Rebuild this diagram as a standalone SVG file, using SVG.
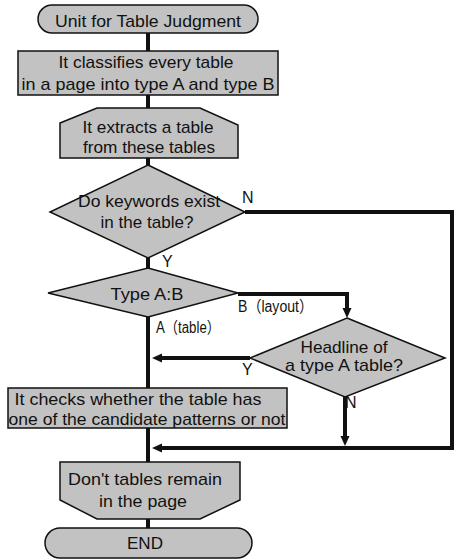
<svg xmlns="http://www.w3.org/2000/svg" width="454" height="560" viewBox="0 0 454 560">
<defs>
<style>
.s{fill:#c2c2c2;stroke:#111;stroke-width:1.5}
.t{font-family:"Liberation Sans",Arial,sans-serif;font-size:17px;fill:#111;text-anchor:middle}
.l{font-family:"Liberation Sans","Noto Sans CJK JP",Arial,sans-serif;font-size:16px;fill:#111}
.c{fill:none;stroke:#111;stroke-width:4;stroke-linejoin:miter}
</style>
<marker id="ah" markerUnits="userSpaceOnUse" markerWidth="10" markerHeight="10" viewBox="0 0 10 10" refX="0" refY="5" orient="auto">
<path d="M0,0.5 L10,5 L0,9.5 z" fill="#111"/>
</marker>
</defs>
<rect width="454" height="560" fill="#fff"/>
<g id="connectors">
<path class="c" d="M148,33 V51"/>
<path class="c" d="M148,95 V108"/>
<path class="c" d="M148,158 V165"/>
<path class="c" d="M148,258 V268"/>
<path class="c" d="M245,212 H452 V448 H162" marker-end="url(#ah)"/>
<path class="c" d="M238,294 H347 V308" marker-end="url(#ah)"/>
<path class="c" d="M148,317 V388"/>
<path class="c" d="M250,358 H162" marker-end="url(#ah)"/>
<path class="c" d="M345,397 V436" marker-end="url(#ah)"/>
<path class="c" d="M148,428 V462"/>
<path class="c" d="M148,519 V528"/>
<text class="l" x="242" y="203">N</text>
<text class="l" x="162" y="267">Y</text>
<text class="l" x="238" y="312" textLength="75" lengthAdjust="spacingAndGlyphs">B（layout）</text>
<text class="l" x="156" y="333" textLength="64" lengthAdjust="spacingAndGlyphs">A（table）</text>
<text class="l" x="242" y="375">Y</text>
<text class="l" x="345" y="408">N</text>
</g>
<g id="start">
<path class="s" d="M52,5 H244 A14,14 0 0 1 244,33 H52 A14,14 0 0 1 52,5 Z"/>
<text class="t" x="148" y="27" textLength="186" lengthAdjust="spacingAndGlyphs">Unit for Table Judgment</text>
</g>
<g id="classify">
<rect class="s" x="18" y="51" width="260" height="44"/>
<text class="t" x="146" y="68" textLength="175" lengthAdjust="spacingAndGlyphs">It classifies every table</text>
<text class="t" x="148" y="90" textLength="253" lengthAdjust="spacingAndGlyphs">in a page into type A and type B</text>
</g>
<g id="extract">
<path class="s" d="M60,123 L97,108 H200 L238,125 V158 H60 Z"/>
<text class="t" x="148" y="133" textLength="131" lengthAdjust="spacingAndGlyphs">It extracts a table</text>
<text class="t" x="149" y="153" textLength="132" lengthAdjust="spacingAndGlyphs">from these tables</text>
</g>
<g id="keywords">
<path class="s" d="M148,165 L245,212 L148,258 L50,212 Z"/>
<text class="t" x="149" y="207" textLength="142" lengthAdjust="spacingAndGlyphs">Do keywords exist</text>
<text class="t" x="147" y="228" textLength="93" lengthAdjust="spacingAndGlyphs">in the table?</text>
</g>
<g id="typeab">
<path class="s" d="M148,268 L238,293 L148,317 L48,293 Z"/>
<text class="t" x="147" y="300" textLength="73" lengthAdjust="spacingAndGlyphs">Type A:B</text>
</g>
<g id="headline">
<path class="s" d="M347,318 L445,358 L345,397 L250,358 Z"/>
<text class="t" x="344" y="353" textLength="87" lengthAdjust="spacingAndGlyphs">Headline of</text>
<text class="t" x="344" y="371" textLength="118" lengthAdjust="spacingAndGlyphs">a type A table?</text>
</g>
<g id="check">
<rect class="s" x="8" y="388" width="279" height="40"/>
<text class="t" x="138" y="405" textLength="247" lengthAdjust="spacingAndGlyphs">It checks whether the table has</text>
<text class="t" x="147" y="425" textLength="277" lengthAdjust="spacingAndGlyphs">one of the candidate patterns or not</text>
</g>
<g id="remain">
<path class="s" d="M60,462 H240 V500 L200,519 H97 L60,500 Z"/>
<text class="t" x="145" y="485" textLength="154" lengthAdjust="spacingAndGlyphs">Don't tables remain</text>
<text class="t" x="143" y="507" textLength="88" lengthAdjust="spacingAndGlyphs">in the page</text>
</g>
<g id="end">
<path class="s" d="M60,528 H237 A15,15 0 0 1 237,558 H60 A15,15 0 0 1 60,528 Z"/>
<text class="t" x="145" y="549" textLength="36" lengthAdjust="spacingAndGlyphs">END</text>
</g>
</svg>
